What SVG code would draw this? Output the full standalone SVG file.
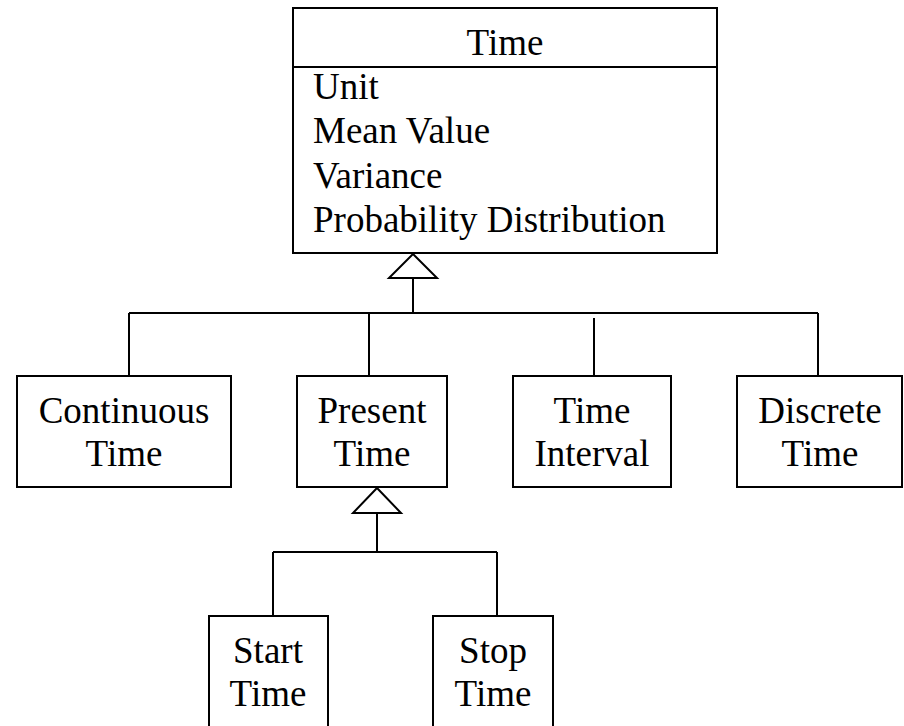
<svg xmlns="http://www.w3.org/2000/svg" width="904" height="726" viewBox="0 0 904 726">
  <style>
    .box { fill: #fff; stroke: #000; stroke-width: 2; }
    .line { fill: none; stroke: #000; stroke-width: 2; }
    .head { fill: #fff; stroke: #000; stroke-width: 2; stroke-linejoin: miter; }
    text { font-family: "Liberation Serif", "Times New Roman", serif; font-size: 37px; fill: #000; }
    .c { text-anchor: middle; }
  </style>
  <rect width="904" height="726" fill="#fff"/>

  <!-- connectors: generalization trees -->
  <g id="connectors">
    <line class="line" x1="413" y1="278" x2="413" y2="313"/>
    <line class="line" x1="129" y1="313" x2="818" y2="313"/>
    <line class="line" x1="129" y1="313" x2="129" y2="376"/>
    <line class="line" x1="369" y1="313" x2="369" y2="376"/>
    <line class="line" x1="594" y1="318" x2="594" y2="376"/>
    <line class="line" x1="818" y1="313" x2="818" y2="376"/>
    <polygon class="head" points="413,254 389,278 437,278"/>

    <line class="line" x1="377" y1="513" x2="377" y2="552"/>
    <line class="line" x1="273" y1="552" x2="497" y2="552"/>
    <line class="line" x1="273" y1="552" x2="273" y2="616"/>
    <line class="line" x1="497" y1="552" x2="497" y2="616"/>
    <polygon class="head" points="377,488 353,513 401,513"/>
  </g>

  <g id="time">
    <rect class="box" x="293" y="8" width="424" height="245"/>
    <line class="line" x1="293" y1="67" x2="717" y2="67"/>
    <text class="c" x="505" y="55">Time</text>
    <text x="313" y="99">Unit</text>
    <text x="313" y="143">Mean Value</text>
    <text x="313" y="188">Variance</text>
    <text x="313" y="232">Probability Distribution</text>
  </g>

  <g id="continuous-time">
    <rect class="box" x="17" y="376" width="214" height="111"/>
    <text class="c" x="124" y="423">Continuous</text>
    <text class="c" x="124" y="466">Time</text>
  </g>

  <g id="present-time">
    <rect class="box" x="297" y="376" width="150" height="111"/>
    <text class="c" x="372" y="423">Present</text>
    <text class="c" x="372" y="466">Time</text>
  </g>

  <g id="time-interval">
    <rect class="box" x="513" y="376" width="158" height="111"/>
    <text class="c" x="592" y="423">Time</text>
    <text class="c" x="592" y="466">Interval</text>
  </g>

  <g id="discrete-time">
    <rect class="box" x="737" y="376" width="165" height="111"/>
    <text class="c" x="820" y="423">Discrete</text>
    <text class="c" x="820" y="466">Time</text>
  </g>

  <g id="start-time">
    <rect class="box" x="209" y="616" width="119" height="130"/>
    <text class="c" x="268" y="663">Start</text>
    <text class="c" x="268" y="706">Time</text>
  </g>

  <g id="stop-time">
    <rect class="box" x="433" y="616" width="120" height="130"/>
    <text class="c" x="493" y="663">Stop</text>
    <text class="c" x="493" y="706">Time</text>
  </g>
</svg>
